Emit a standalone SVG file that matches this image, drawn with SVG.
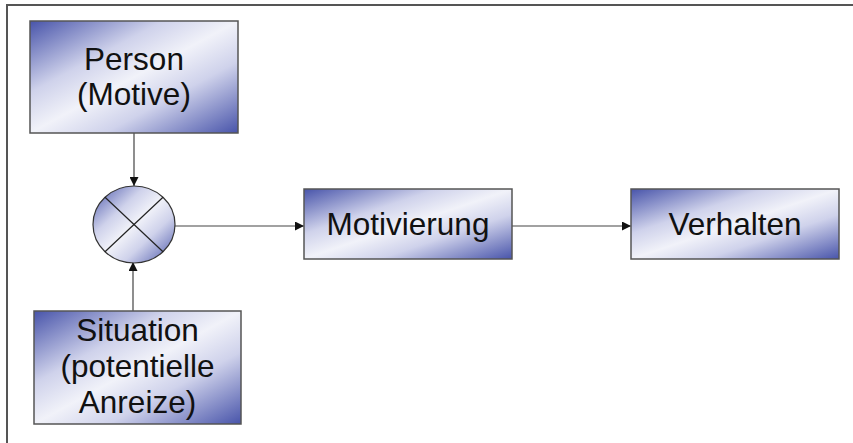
<svg xmlns="http://www.w3.org/2000/svg" width="853" height="443" viewBox="0 0 853 443">
  <defs>
    <linearGradient id="boxFill" x1="0" y1="0" x2="1" y2="1">
      <stop offset="0" stop-color="#4854aa"/>
      <stop offset="0.32" stop-color="#cfd2eb"/>
      <stop offset="0.5" stop-color="#f1f2f9"/>
      <stop offset="0.68" stop-color="#cfd2eb"/>
      <stop offset="1" stop-color="#4854aa"/>
    </linearGradient>
    <marker id="arrow" viewBox="0 0 10 10" refX="10" refY="5" markerWidth="9" markerHeight="9" markerUnits="userSpaceOnUse" orient="auto">
      <path d="M0,0 L10,5 L0,10 z" fill="#111"/>
    </marker>
  </defs>
  <style>
    .box { fill: url(#boxFill); stroke: #555; stroke-width: 1.5; }
    .lbl { font-family: "Liberation Sans", Arial, sans-serif; font-size: 31.5px; fill: #111; text-anchor: middle; }
    .edge { stroke: #444; stroke-width: 1.2; fill: none; marker-end: url(#arrow); }
    .frame { stroke: #555; stroke-width: 2; fill: none; }
  </style>

  <rect width="853" height="443" fill="#fff"/>
  <!-- page frame: top and left rules only -->
  <path class="frame" d="M7,443 V5 H853"/>

  <g id="edges">
    <line class="edge" x1="134" y1="133" x2="134" y2="186"/>
    <line class="edge" x1="133" y1="311" x2="133" y2="262"/>
    <line class="edge" x1="175" y1="226" x2="304" y2="226"/>
    <line class="edge" x1="512" y1="226" x2="631" y2="226"/>
  </g>

  <g id="person">
    <rect class="box" x="30" y="21" width="208" height="112"/>
    <text class="lbl" x="134" y="70">Person</text>
    <text class="lbl" x="134" y="105">(Motive)</text>
  </g>

  <g id="combine">
    <ellipse cx="134" cy="224.5" rx="41" ry="38.5" fill="url(#boxFill)" stroke="#333" stroke-width="1.2"/>
    <line x1="105" y1="197.3" x2="163" y2="251.7" stroke="#222" stroke-width="1.2"/>
    <line x1="163" y1="197.3" x2="105" y2="251.7" stroke="#222" stroke-width="1.2"/>
  </g>

  <g id="situation">
    <rect class="box" x="34" y="311" width="207" height="113"/>
    <text class="lbl" x="137.5" y="341">Situation</text>
    <text class="lbl" x="137.5" y="377">(potentielle</text>
    <text class="lbl" x="137.5" y="413">Anreize)</text>
  </g>

  <g id="motivierung">
    <rect class="box" x="304" y="189" width="208" height="70"/>
    <text class="lbl" x="408" y="235">Motivierung</text>
  </g>

  <g id="verhalten">
    <rect class="box" x="631" y="189" width="208" height="70"/>
    <text class="lbl" x="735" y="235">Verhalten</text>
  </g>
</svg>
